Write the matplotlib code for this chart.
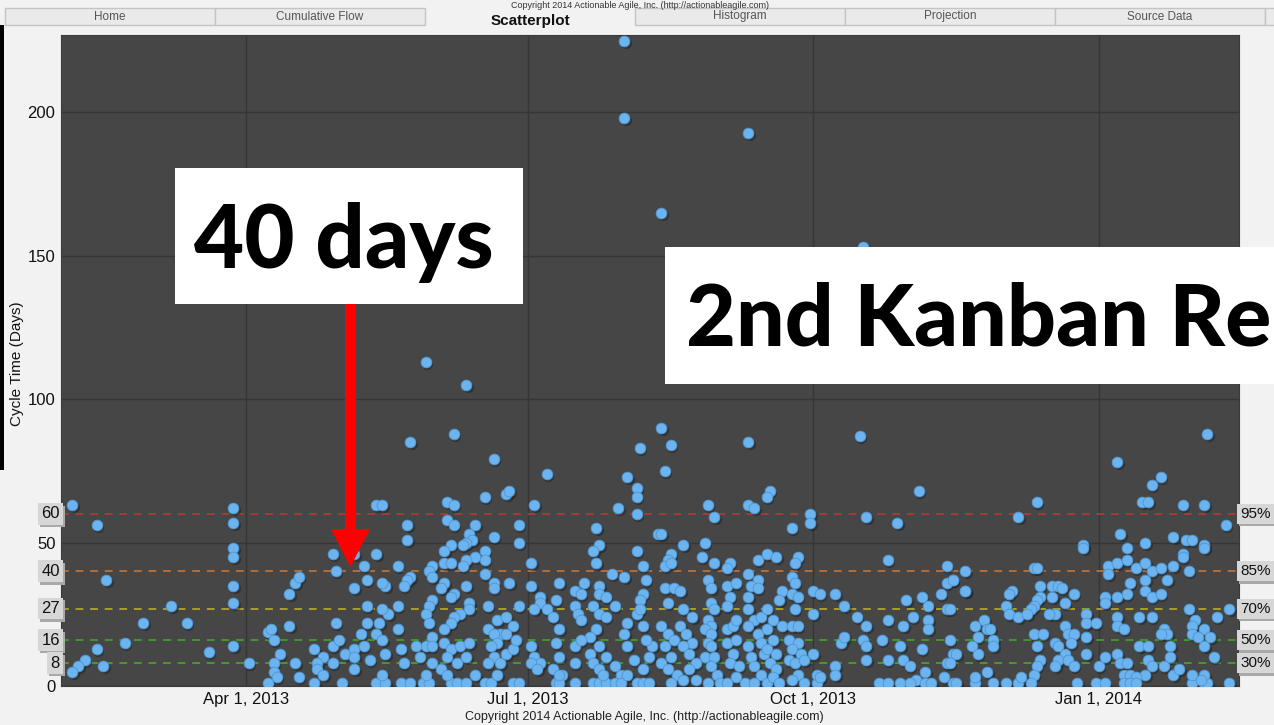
import numpy as np
import matplotlib.pyplot as plt
from matplotlib.patches import Rectangle, Polygon
from matplotlib.transforms import ScaledTranslation

plt.rcParams['font.family'] = ['Liberation Sans', 'DejaVu Sans']

W, H = 1274, 725

# (completion day counted from 1 Jan 2013, cycle time in days)
outliers = [(212, 225), (212, 198), (252, 193), (224, 165), (289, 153), (148, 113)]

feb_to_may = [
    (34, 63), (42, 56), (45, 37), (86, 62), (86, 57), (86, 48), (86, 45), (86, 35), (86, 29), (86, 14),
    (66, 28), (57, 22), (71, 22), (42, 13), (51, 15), (78, 12), (38, 9), (36, 7), (34, 5), (44, 7),
    (91, 8), (97, 19), (98, 20), (99, 16), (104, 21), (104, 32), (106, 36), (107, 38), (101, 11), (99, 8),
    (99, 5), (100, 3), (97, 1), (106, 8), (107, 3), (112, 13), (115, 10), (113, 8), (113, 6), (115, 4),
    (112, 1), (118, 8), (121, 1), (118, 46), (119, 40), (125, 34), (119, 22), (118, 14), (120, 16), (122, 11),
    (125, 13), (125, 10), (125, 6), (125, 46),
]

may_to_aug = [
    (161, 105), (132, 63), (134, 63), (155, 64), (157, 63), (167, 66), (174, 67), (175, 68), (183, 63), (142, 56),
    (142, 51), (155, 58), (157, 56), (164, 56), (162, 53), (163, 51), (161, 50), (160, 49), (170, 52), (178, 56),
    (178, 50), (167, 47), (167, 44), (164, 45), (156, 49), (154, 47), (154, 43), (156, 43), (161, 44), (160, 42),
    (132, 46), (128, 42), (139, 42), (150, 42), (149, 40), (150, 38), (143, 38), (142, 37), (141, 35), (129, 37),
    (135, 35), (134, 36), (167, 39), (170, 36), (170, 34), (175, 36), (161, 35), (154, 36), (153, 34), (157, 32),
    (156, 31), (182, 43), (182, 35), (191, 36), (203, 55), (204, 49), (202, 47), (203, 43), (208, 39), (212, 38),
    (216, 47), (218, 42), (219, 37), (218, 32), (217, 30), (199, 36), (196, 33), (198, 32), (204, 35), (204, 32),
    (206, 31), (223, 53), (185, 31), (185, 29), (183, 27), (187, 27), (189, 24), (190, 30), (191, 20), (196, 28),
    (197, 25), (198, 23), (202, 28), (204, 25), (206, 24), (203, 20), (201, 17), (209, 28), (216, 25), (217, 27),
    (218, 21), (213, 22), (212, 18), (178, 28), (168, 28), (171, 23), (174, 24), (176, 21), (172, 18), (162, 29),
    (162, 27), (159, 25), (157, 24), (156, 22), (154, 20), (150, 30), (149, 28), (148, 25), (149, 22), (150, 17),
    (148, 14), (139, 28), (136, 25), (134, 27), (133, 22), (132, 18), (129, 28), (129, 22), (127, 18), (128, 14),
    (130, 9), (134, 16), (135, 11), (139, 20), (140, 13), (141, 8), (145, 14), (146, 10), (154, 15), (156, 13),
    (159, 14), (162, 15), (161, 10), (158, 8), (155, 10), (153, 6), (150, 14), (150, 8), (168, 20), (170, 18),
    (171, 15), (169, 14), (170, 10), (168, 8), (172, 8), (174, 11), (176, 13), (174, 18), (177, 16), (182, 14),
    (183, 10), (185, 8), (182, 8), (184, 6), (190, 15), (191, 10), (189, 6), (192, 4), (196, 8), (196, 14),
    (198, 16), (201, 11), (202, 8), (204, 14), (206, 10), (204, 6), (209, 7), (211, 4), (213, 14), (215, 9),
    (218, 6), (220, 10), (221, 14), (219, 16), (132, 1), (135, 1), (140, 1), (143, 1), (147, 1), (149, 1),
    (156, 1), (158, 1), (161, 1), (167, 1), (169, 1), (176, 1), (178, 1), (190, 1), (191, 1), (196, 1),
    (202, 1), (204, 1), (206, 1), (209, 1), (211, 1), (216, 1), (218, 1), (220, 1), (134, 4), (148, 4),
    (155, 4), (164, 4), (171, 4), (191, 4), (205, 4), (213, 4),
    (224, 90), (217, 83), (213, 73), (170, 79), (187, 74), (157, 88), (143, 85), (216, 69), (216, 66), (210, 62),
    (216, 60),
]

aug_to_nov = [
    (227, 84), (225, 75), (252, 85), (288, 87), (307, 68),
    (259, 68), (258, 66), (239, 63), (241, 59), (252, 63), (254, 62), (272, 60), (272, 57), (266, 55), (290, 59),
    (300, 57), (224, 53), (231, 49), (238, 50), (227, 46), (226, 44), (225, 42), (227, 43), (237, 45), (241, 43),
    (246, 43), (245, 41), (255, 44), (258, 46), (261, 45), (268, 45), (267, 43), (297, 44), (316, 42), (318, 37),
    (316, 36), (314, 32), (316, 27), (225, 34), (228, 34), (230, 33), (226, 29), (239, 37), (240, 34), (240, 29),
    (241, 27), (239, 23), (240, 21), (245, 35), (248, 36), (246, 31), (245, 28), (252, 39), (255, 37), (253, 35),
    (255, 34), (252, 31), (266, 38), (267, 36), (263, 33), (266, 32), (268, 31), (262, 30), (267, 27), (273, 33),
    (275, 32), (280, 32), (273, 25), (283, 28), (287, 24), (290, 21), (282, 15), (283, 17), (297, 23), (302, 21),
    (305, 24), (308, 31), (310, 28), (310, 23), (310, 20), (303, 30), (289, 16), (290, 14), (295, 16), (301, 14),
    (308, 13), (302, 9), (304, 7), (297, 9), (290, 9), (280, 7), (280, 4), (309, 5), (306, 2), (317, 16),
    (318, 11), (316, 8), (315, 3), (294, 1), (297, 1), (301, 1), (304, 1), (309, 1), (311, 1), (318, 1),
    (275, 3), (274, 1),
    (224, 21), (226, 18), (228, 16), (225, 14), (227, 10), (224, 8), (226, 6), (229, 4), (231, 2), (227, 1),
    (231, 27), (234, 24), (230, 21), (232, 18), (234, 15), (231, 14), (233, 11), (235, 8), (233, 6), (235, 2),
    (238, 20), (240, 18), (239, 15), (240, 14), (238, 10), (241, 10), (240, 7), (242, 4), (239, 1), (243, 1),
    (245, 20), (247, 21), (248, 23), (245, 15), (248, 16), (247, 11), (246, 8), (249, 7), (248, 3), (245, 1),
    (251, 1), (252, 27), (254, 23), (252, 21), (256, 24), (255, 18), (252, 14), (256, 15), (253, 10), (257, 11),
    (254, 7), (256, 4), (254, 1), (258, 1), (258, 27), (260, 23), (258, 20), (260, 16), (258, 13), (261, 11),
    (259, 8), (261, 6), (260, 3), (262, 1), (263, 21), (266, 21), (268, 21), (265, 16), (268, 15), (266, 13),
    (269, 11), (265, 9), (267, 8), (270, 9), (268, 4), (266, 2), (270, 1), (273, 11), (274, 4), (275, 3),
]

nov_to_feb = [
    (400, 88), (371, 78), (382, 70), (385, 73), (379, 64), (381, 64), (392, 63), (399, 63), (406, 56), (345, 64),
    (339, 59), (372, 53), (380, 50), (389, 52), (393, 51), (395, 51), (399, 49), (399, 48), (392, 46), (392, 45),
    (360, 49), (360, 48), (374, 48), (368, 42), (368, 39), (371, 43), (374, 44), (377, 41), (380, 43), (382, 40),
    (380, 37), (385, 41), (387, 37), (389, 42), (394, 40), (375, 36), (374, 32), (371, 31), (380, 33), (382, 31),
    (385, 32), (367, 31), (367, 29), (322, 40), (318, 37), (322, 33), (322, 33), (344, 41), (345, 41), (346, 35),
    (350, 35), (352, 35), (353, 34), (357, 32), (350, 31), (354, 29), (351, 25), (349, 25), (337, 33), (336, 32),
    (335, 28), (336, 25), (339, 24), (346, 31), (345, 30), (344, 28), (343, 27), (342, 25), (317, 27), (361, 25),
    (361, 22), (364, 22), (371, 24), (371, 21), (373, 20), (378, 24), (382, 24), (394, 27), (396, 23), (395, 21),
    (399, 20), (403, 24), (407, 27), (386, 20), (387, 18), (385, 18), (388, 14), (395, 18), (397, 17), (401, 17),
    (399, 14), (402, 10), (325, 21), (328, 23), (329, 20), (330, 20), (331, 16), (331, 14), (326, 17), (324, 14),
    (326, 11), (319, 11), (317, 8), (354, 21), (355, 18), (357, 18), (356, 15), (351, 15), (352, 14), (354, 11),
    (352, 9), (355, 9), (351, 7), (357, 7), (361, 11), (361, 17), (344, 18), (347, 18), (345, 14), (346, 9),
    (345, 7), (344, 4), (365, 7), (367, 10), (371, 11), (372, 8), (374, 8), (373, 4), (375, 4), (380, 4),
    (377, 3), (381, 9), (382, 7), (386, 7), (388, 10), (389, 4), (391, 6), (378, 14), (381, 14), (319, 1),
    (325, 1), (331, 1), (335, 1), (339, 1), (343, 1), (358, 1), (364, 1), (367, 1), (373, 1), (375, 1),
    (377, 1), (395, 1), (399, 1), (400, 1), (407, 1), (340, 3), (329, 5), (325, 3), (395, 4), (399, 4),
    (398, 2),
]

pct_values = [60, 40, 27, 16, 8]
pct_labels = ['95%', '85%', '70%', '50%', '30%']
pct_colors = ['#a03c3c', '#b26d38', '#a89f2a', '#3f9a2c', '#489b2a']

y_ticks = [0, 50, 100, 150, 200]
x_tick_dates = ['2013-04-01', '2013-07-01', '2013-10-01', '2014-01-01']
x_tick_labels = ['Apr 1, 2013', 'Jul 1, 2013', 'Oct 1, 2013', 'Jan 1, 2014']
tabs = ['Home', 'Cumulative Flow', 'Scatterplot', 'Histogram', 'Projection', 'Source Data']

pts = np.array(outliers + feb_to_may + may_to_aug + aug_to_nov + nov_to_feb)
dates = np.datetime64('2013-01-01') + pts[:, 0].astype('timedelta64[D]')
cycle = pts[:, 1]

fig = plt.figure(figsize=(W / 100, H / 100), dpi=100, facecolor='#f2f2f2')
ax = fig.add_axes([61 / W, 1 - 686 / H, (1239 - 61) / W, (686 - 35) / H])
ax.set_facecolor('#464646')

ax.set_xlim(np.datetime64('2013-01-31T10'), np.datetime64('2014-02-15T05'))
ax.set_ylim(0, 227)
ax.set_xticks(np.array(x_tick_dates, dtype='datetime64[D]'))
ax.set_xticklabels(x_tick_labels, fontsize=12, color='#111111')
ax.set_yticks(y_ticks)
ax.set_yticklabels([str(v) for v in y_ticks], fontsize=12, color='#111111')
ax.tick_params(length=0, pad=4)
ax.grid(color='#363636', lw=1)
ax.set_axisbelow(True)
for s in ax.spines.values():
    s.set_color('#3a3a3a')

for v, c in zip(pct_values, pct_colors):
    ax.axhline(v, color=c, lw=1.4, dashes=(4, 3.5), zorder=2)

# soft drop shadow under each dot, then the dots
shadow = ax.transData + ScaledTranslation(0.015, -0.02, fig.dpi_scale_trans)
ax.scatter(dates, cycle, s=66, c='#1c1c1c', alpha=0.45, lw=0, transform=shadow, zorder=3)
ax.scatter(dates, cycle, s=60, c='#6cb4ef', edgecolors='#4f95cf', linewidths=0.6, zorder=4)

# percentile value boxes on the left, percent boxes on the right
ytr = ax.get_yaxis_transform()
box_off = ytr + ScaledTranslation(0.02, -0.025, fig.dpi_scale_trans)
for v, lab in zip(pct_values, pct_labels):
    for txt, x, ha, fs in [(str(v), -0.001, 'right', 12), (lab, 1.0012, 'left', 11)]:
        ax.text(x, v, txt, transform=box_off, ha=ha, va='center', fontsize=fs, color='none',
                bbox=dict(boxstyle='square,pad=0.2', fc='#a9a9a9', ec='none'), clip_on=False)
        ax.text(x, v, txt, transform=ytr, ha=ha, va='center', fontsize=fs, color='#111111',
                bbox=dict(boxstyle='square,pad=0.2', fc='#d7d7d7', ec='none'), clip_on=False)

fig.text(17 / W, 1 - 364 / H, 'Cycle Time (Days)', rotation=90, ha='center', va='center',
         fontsize=11, color='#111111')
fig.text(644 / W, 1 - 717 / H, 'Copyright 2014 Actionable Agile, Inc. (http://actionableagile.com)',
         ha='center', va='center', fontsize=9, color='#222222')
fig.text(640 / W, 1 - 0.5 / H, 'Copyright 2014 Actionable Agile, Inc. (http://actionableagile.com)',
         ha='center', va='top', fontsize=6.5, color='#333333')


def frect(x0, y0, x1, y1, **kw):
    r = Rectangle((x0 / W, 1 - y1 / H), (x1 - x0) / W, (y1 - y0) / H, transform=fig.transFigure, **kw)
    fig.add_artist(r)
    return r


# tab strip
for i, name in enumerate(tabs):
    x0 = 5 + 210 * i
    if name == 'Scatterplot':
        fig.text((x0 + 105) / W, 1 - 21 / H, name, ha='center', va='center', fontsize=11,
                 fontweight='bold', color='#111111')
    else:
        frect(x0, 8, x0 + 210, 25, fc='#eaeaea', ec='#c4c4c4', lw=1)
        fig.text((x0 + 105) / W, 1 - 16.5 / H, name, ha='center', va='center', fontsize=8.5,
                 color='#555555')
frect(1265, 8, 1290, 25, fc='#eaeaea', ec='#c4c4c4', lw=1)
frect(0, 25, 4, 470, fc='#000000', ec='none')

# slide overlays: callout boxes and the red arrow
frect(175, 168, 523, 304, fc='white', ec='none', zorder=10)
fig.text(344 / W, 1 - 268 / H, '40 days', ha='center', va='baseline', fontsize=62.5,
         family='Lato', fontweight='black', color='black', zorder=11)
frect(665, 247, 1290, 384, fc='white', ec='none', zorder=10)
fig.text(686 / W, 1 - 346 / H, '2nd Kanban Re', ha='left', va='baseline', fontsize=62,
         family='Lato', fontweight='black', color='black', zorder=11)
arrow_px = [(345, 304), (356, 304), (356, 529), (370, 529), (350.5, 567), (331, 529), (345, 529)]
fig.add_artist(Polygon([(x / W, 1 - y / H) for x, y in arrow_px], closed=True,
                       transform=fig.transFigure, fc='#ff0000', ec='none', zorder=10))

fig.savefig('out.png', dpi=100, facecolor=fig.get_facecolor())
